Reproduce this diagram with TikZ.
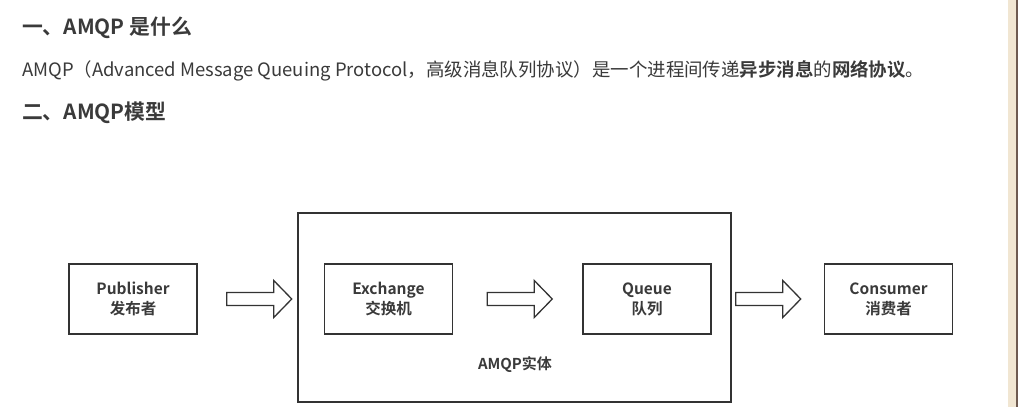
\documentclass[tikz,border=0pt]{standalone}
\usepackage{fontspec}
\setmainfont{Noto Sans CJK SC}[BoldFont={Noto Sans CJK SC Bold}]
\usepackage{xcolor}
\usetikzlibrary{positioning, calc}

\definecolor{txtgray}{HTML}{3A3A3A}
\definecolor{linegray}{HTML}{333333}
\definecolor{paper}{HTML}{F1E6D2}
\definecolor{woodedge}{HTML}{6E5A50}

% hollow block arrow starting #2 pt right of node #1
\newcommand{\hollowarrow}[2]{%
    \draw[blockarr] ($(#1)+(#2,0)$) ++(0,-6.5) -- ++(47,0) -- ++(0,-12) -- ++(18,18.5) -- ++(-18,18.5) -- ++(0,-12) -- ++(-47,0) -- cycle;
}

\begin{document}
\begin{tikzpicture}[x=1pt, y=-1pt, font=\bfseries, text=txtgray]
    % page and right edge
    \useasboundingbox (0,0) rectangle (1018,407);
    \fill[white] (0,0) rectangle (1018,407);
    \fill[paper] (1008,0) rectangle (1016,407);
    \fill[woodedge] (1016,0) rectangle (1018,407);

    \tikzset{
        box/.style={draw=linegray, line width=1.5pt, fill=white, minimum width=128pt, minimum height=70pt, align=center, font=\fontsize{15.5}{20}\selectfont\bfseries},
        blockarr/.style={draw=linegray, line width=1.3pt, fill=white, line join=miter}
    }

    % Headings
    \node[anchor=west, inner sep=0pt, font=\fontsize{20.8}{24}\selectfont\bfseries] (h1) at (22,28) {一、AMQP 是什么};
    \node[anchor=west, inner sep=0pt, font=\fontsize{18.45}{22}\selectfont\mdseries] (para) at (22,71) {AMQP（Advanced Message Queuing Protocol，高级消息队列协议）是一个进程间传递\textbf{异步消息}的\textbf{网络协议}。};
    \node[anchor=west, inner sep=0pt, font=\fontsize{20.8}{24}\selectfont\bfseries] (h2) at (22,113) {二、AMQP模型};

    % AMQP entity
    \node[draw=linegray, line width=1.5pt, minimum width=433pt, minimum height=189pt] (amqp) at (514.5,307.5) {};
    \node[font=\fontsize{15}{18}\selectfont\bfseries] (amqplbl) at (515,365) {AMQP实体};

    % Boxes
    \node[box] (pub) at (133,299) {Publisher\\发布者};
    \node[box] (exch) at (388.5,299) {Exchange\\交换机};
    \node[box] (queue) at (647,299) {Queue\\队列};
    \node[box] (cons) at (888.5,299) {Consumer\\消费者};

    % Arrows
    \hollowarrow{pub.east}{29}
    \hollowarrow{exch.east}{34}
    \hollowarrow{amqp.east |- queue.east}{4}
\end{tikzpicture}
\end{document}
